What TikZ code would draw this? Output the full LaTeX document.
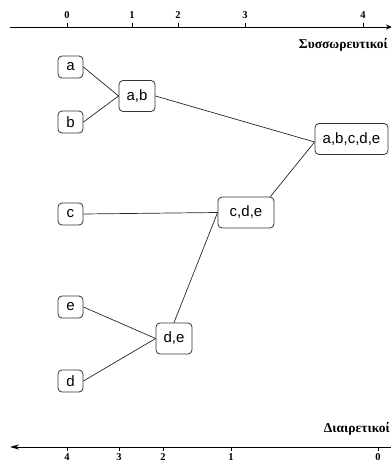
\documentclass[tikz,border=0pt]{standalone}
\usepackage{fontspec}
\setmainfont{Liberation Sans}
\newfontfamily\axisfont{Liberation Serif}
\usetikzlibrary{arrows.meta}
\tikzset{
  box/.style={draw=black!80, rounded corners=4pt, line width=0.8pt, fill=white,
    font=\fontsize{15}{15}\selectfont, inner sep=0pt, minimum height=31pt},
  leaf/.style={box, minimum width=25pt, minimum height=22pt},
  link/.style={draw=black!85, line width=0.7pt},
  axis/.style={draw=black, line width=0.9pt},
  tick/.style={draw=black, line width=0.7pt},
  ticklab/.style={font=\axisfont\bfseries\fontsize{10.5}{10.5}\selectfont, inner sep=0pt},
  axislab/.style={font=\axisfont\bfseries\fontsize{13.5}{13.5}\selectfont, inner sep=0pt}
}
\begin{document}
\begin{tikzpicture}[x=1pt,y=-1pt]
\useasboundingbox (0,0) rectangle (391,464);
% top axis
\coordinate (t0) at (10,27);
\coordinate (t1) at (392,27);
\draw[axis,-{Stealth[length=6pt,width=5pt]}] (t0) -- (t1);
\foreach \x/\l in {67/0,132/1,178/2,245/3,363/4}{
  \draw[tick] (\x,23) -- (\x,27);
  \node[ticklab] (tl\l) at (\x,15.5) {\l};
}
\node[axislab, anchor=east] (sys) at (388,44.5) {Συσσωρευτικοί};
% bottom axis
\coordinate (b0) at (392,447);
\coordinate (b1) at (10,447);
\draw[axis,-{Stealth[length=9pt,width=5pt]}] (b0) -- (b1);
\foreach \x/\l in {67/4,119/3,163/2,231/1,378/0}{
  \draw[tick] (\x,447) -- (\x,451);
  \node[ticklab] (bl\l) at (\x,457.5) {\l};
}
\node[axislab, anchor=east] (dia) at (390,429) {Διαιρετικοί};
% nodes
\node[leaf] (a) at (70.5,67) {a};
\node[leaf] (b) at (70.5,122) {b};
\node[leaf] (c) at (70.5,214) {c};
\node[leaf] (e) at (70.5,307) {e};
\node[leaf] (d) at (70.5,381) {d};
\node[box, minimum width=36pt] (ab) at (137,96) {a,b};
\node[box, minimum width=36pt] (de) at (174,338.5) {d,e};
\node[box, minimum width=56pt] (cde) at (246,212.5) {c,d,e};
\node[box, minimum width=73pt] (abcde) at (351.5,139) {a,b,c,d,e};
% links
\draw[link] (a.east) -- (ab.west);
\draw[link] (b.east) -- (ab.west);
\draw[link] (ab.east) -- ([yshift=-3pt]abcde.west);
\draw[link] (c.east) -- (cde.west);
\draw[link] ([xshift=-4pt]cde.north east) -- ([yshift=-3pt]abcde.west);
\draw[link] (e.east) -- (de.west);
\draw[link] (d.east) -- (de.west);
\draw[link] (de.north) -- (cde.west);
\end{tikzpicture}
\end{document}
